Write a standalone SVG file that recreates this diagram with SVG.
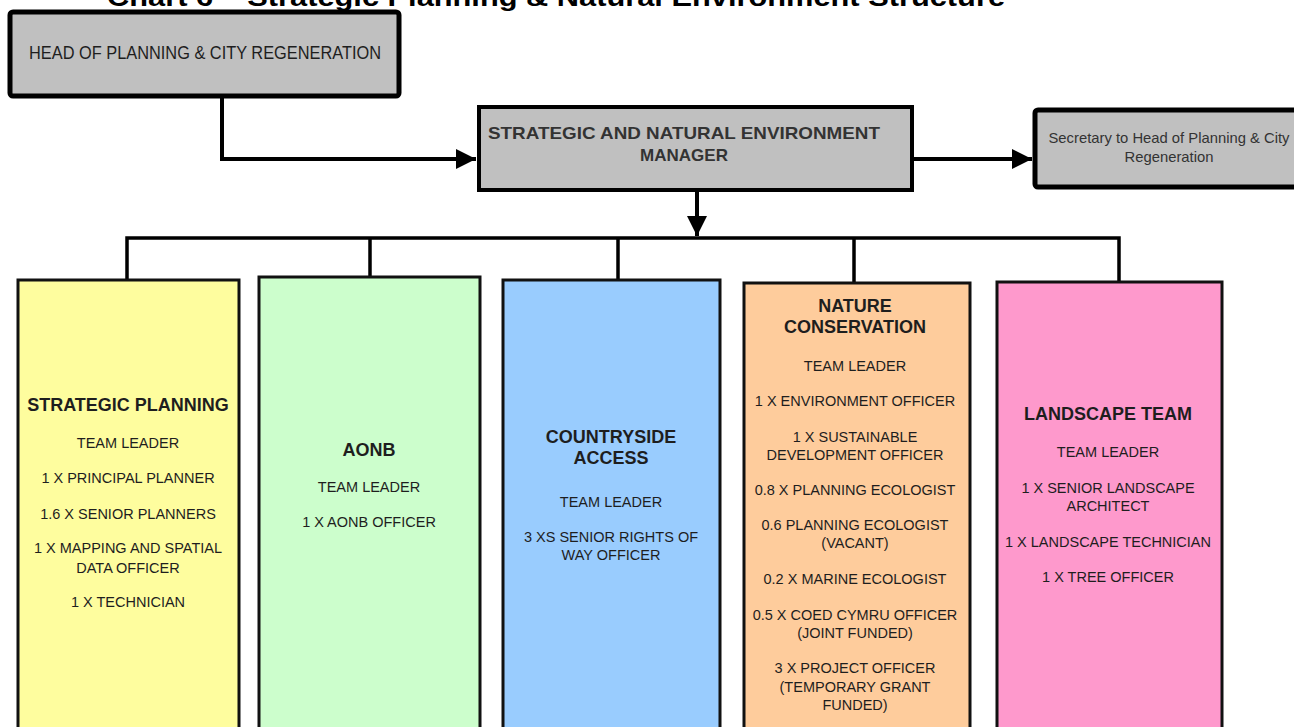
<svg xmlns="http://www.w3.org/2000/svg" width="1294" height="727" viewBox="0 0 1294 727">
<defs>
<style>
text{font-family:"Liberation Sans",Arial,sans-serif;fill:#1e1e1e;text-anchor:middle}
.t{font-size:14.5px}
.h{font-size:18px;font-weight:bold}
.conn{stroke:#000;stroke-width:4;fill:none}
.team{stroke:#111;stroke-width:3}
.gray{fill:#c0c0c0;stroke:#000}
</style>
<marker id="arr" viewBox="0 0 10 10" refX="10" refY="5" markerWidth="6" markerHeight="5" markerUnits="strokeWidth" orient="auto">
<path d="M0,0 L10,5 L0,10 z" fill="#000"/>
</marker>
</defs>
<rect width="1294" height="727" fill="#fff"/>
<text x="107" y="6" style="font-size:26px;font-weight:bold;text-anchor:start;fill:#000" textLength="898" lengthAdjust="spacingAndGlyphs">Chart 6 – Strategic Planning &amp; Natural Environment Structure</text>

<g id="connectors">
<polyline class="conn" points="222,97 222,159 476,159" marker-end="url(#arr)"/>
<line class="conn" x1="913" y1="159" x2="1032" y2="159" marker-end="url(#arr)"/>
<line class="conn" x1="697" y1="190" x2="697" y2="236" marker-end="url(#arr)"/>
<polyline class="conn" style="stroke-width:3.5" points="127,280 127,238 1119,238 1119,282"/>
<line class="conn" style="stroke-width:3.5" x1="370" y1="238" x2="370" y2="277"/>
<line class="conn" style="stroke-width:3.5" x1="618" y1="238" x2="618" y2="280"/>
<line class="conn" style="stroke-width:3.5" x1="854" y1="238" x2="854" y2="283"/>
</g>

<g id="head">
<rect class="gray" x="10" y="12" width="389" height="84" rx="3" stroke-width="5"/>
<text x="205" y="59" style="font-size:18px" textLength="352" lengthAdjust="spacingAndGlyphs">HEAD OF PLANNING &amp; CITY REGENERATION</text>
</g>

<g id="manager">
<rect class="gray" x="479" y="107" width="433" height="83" stroke-width="4"/>
<text x="684" y="139" style="font-size:17px;font-weight:bold;fill:#333" textLength="392" lengthAdjust="spacingAndGlyphs">STRATEGIC AND NATURAL ENVIRONMENT</text>
<text x="684" y="161" style="font-size:17px;font-weight:bold;fill:#333">MANAGER</text>
</g>

<g id="secretary">
<rect class="gray" x="1035" y="110" width="270" height="77" rx="3" stroke-width="5"/>
<text x="1169" y="143" style="font-size:14.8px;fill:#333">Secretary to Head of Planning &amp; City</text>
<text x="1169" y="162" style="font-size:14.8px;fill:#333">Regeneration</text>
</g>

<g id="strategic-planning">
<rect class="team" x="18" y="280" width="221" height="460" fill="#fefd9e"/>
<text class="h" x="128" y="411">STRATEGIC PLANNING</text>
<text class="t" x="128" y="448">TEAM LEADER</text>
<text class="t" x="128" y="483">1 X PRINCIPAL PLANNER</text>
<text class="t" x="128" y="519">1.6 X SENIOR PLANNERS</text>
<text class="t" x="128" y="553">1 X MAPPING AND SPATIAL</text>
<text class="t" x="128" y="573">DATA OFFICER</text>
<text class="t" x="128" y="607">1 X TECHNICIAN</text>
</g>

<g id="aonb">
<rect class="team" x="259" y="277" width="221" height="463" fill="#ccfecc"/>
<text class="h" x="369" y="456">AONB</text>
<text class="t" x="369" y="492">TEAM LEADER</text>
<text class="t" x="369" y="527">1 X AONB OFFICER</text>
</g>

<g id="countryside-access">
<rect class="team" x="503" y="280" width="217" height="460" fill="#99ccfe"/>
<text class="h" x="611" y="443">COUNTRYSIDE</text>
<text class="h" x="611" y="464">ACCESS</text>
<text class="t" x="611" y="507">TEAM LEADER</text>
<text class="t" x="611" y="542">3 XS SENIOR RIGHTS OF</text>
<text class="t" x="611" y="560">WAY OFFICER</text>
</g>

<g id="nature-conservation">
<rect class="team" x="744" y="283" width="226" height="457" fill="#fecc9c"/>
<text class="h" x="855" y="312">NATURE</text>
<text class="h" x="855" y="333">CONSERVATION</text>
<text class="t" x="855" y="371">TEAM LEADER</text>
<text class="t" x="855" y="406">1 X ENVIRONMENT OFFICER</text>
<text class="t" x="855" y="442">1 X SUSTAINABLE</text>
<text class="t" x="855" y="460">DEVELOPMENT OFFICER</text>
<text class="t" x="855" y="495">0.8 X PLANNING ECOLOGIST</text>
<text class="t" x="855" y="530">0.6 PLANNING ECOLOGIST</text>
<text class="t" x="855" y="548">(VACANT)</text>
<text class="t" x="855" y="584">0.2 X MARINE ECOLOGIST</text>
<text class="t" x="855" y="620">0.5 X COED CYMRU OFFICER</text>
<text class="t" x="855" y="638">(JOINT FUNDED)</text>
<text class="t" x="855" y="673">3 X PROJECT OFFICER</text>
<text class="t" x="855" y="692">(TEMPORARY GRANT</text>
<text class="t" x="855" y="710">FUNDED)</text>
</g>

<g id="landscape-team">
<rect class="team" x="997" y="282" width="225" height="458" fill="#fe99cc"/>
<text class="h" x="1108" y="420">LANDSCAPE TEAM</text>
<text class="t" x="1108" y="457">TEAM LEADER</text>
<text class="t" x="1108" y="493">1 X SENIOR LANDSCAPE</text>
<text class="t" x="1108" y="511">ARCHITECT</text>
<text class="t" x="1108" y="547">1 X LANDSCAPE TECHNICIAN</text>
<text class="t" x="1108" y="582">1 X TREE OFFICER</text>
</g>
</svg>
